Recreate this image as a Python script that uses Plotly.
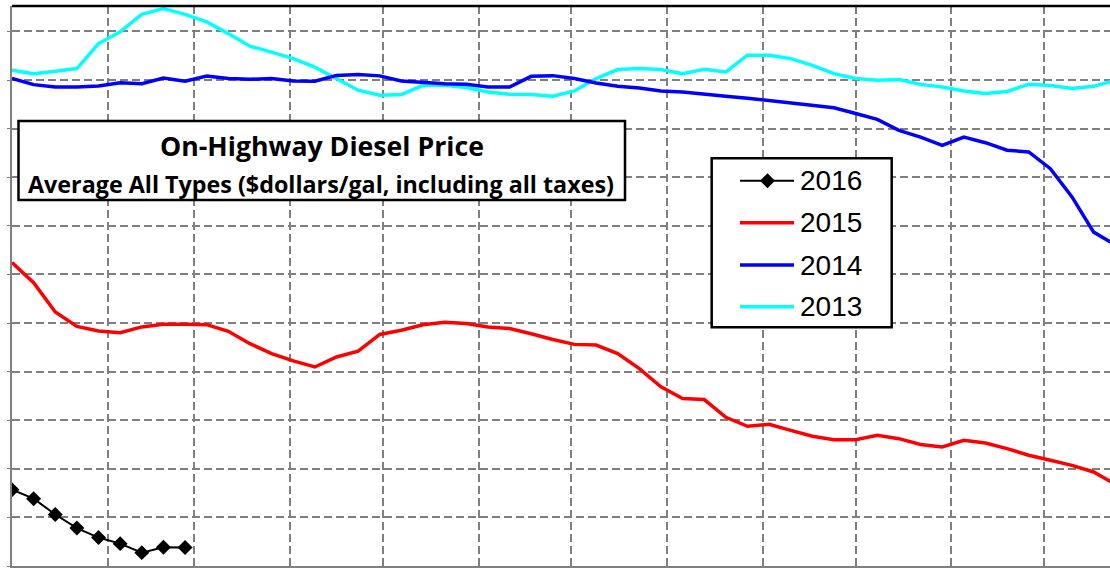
import plotly.graph_objects as go

# Weekly on-highway diesel prices ($/gal), first reading of each year onward
series_names = ["2013", "2014", "2015", "2016"]
series_colors = ["#00FFFF", "#0000FF", "#FF0000", "#000000"]

price_2013 = [3.940, 3.926, 3.936, 3.947, 4.050, 4.098, 4.170, 4.194, 4.170, 4.139,
              4.091, 4.039, 4.015, 3.988, 3.953, 3.906, 3.858, 3.837, 3.840, 3.878,
              3.878, 3.869, 3.851, 3.841, 3.840, 3.833, 3.855, 3.906, 3.943, 3.947,
              3.943, 3.926, 3.944, 3.933, 4.002, 4.002, 3.988, 3.960, 3.926, 3.906,
              3.899, 3.902, 3.882, 3.871, 3.855, 3.844, 3.853, 3.882, 3.877, 3.865,
              3.874, 3.899]
price_2014 = [3.906, 3.881, 3.871, 3.871, 3.875, 3.889, 3.885, 3.908, 3.895, 3.916,
              3.906, 3.903, 3.906, 3.896, 3.895, 3.919, 3.923, 3.917, 3.896, 3.889,
              3.885, 3.882, 3.871, 3.871, 3.915, 3.918, 3.906, 3.888, 3.874, 3.867,
              3.855, 3.851, 3.841, 3.833, 3.825, 3.816, 3.807, 3.797, 3.786, 3.762,
              3.738, 3.693, 3.665, 3.631, 3.665, 3.642, 3.611, 3.604, 3.535, 3.419,
              3.274, 3.222]
price_2015 = [3.149, 3.066, 2.945, 2.886, 2.867, 2.860, 2.884, 2.895, 2.895, 2.893,
              2.866, 2.815, 2.774, 2.744, 2.719, 2.760, 2.784, 2.853, 2.870, 2.893,
              2.903, 2.898, 2.884, 2.877, 2.856, 2.832, 2.812, 2.809, 2.774, 2.712,
              2.637, 2.589, 2.585, 2.512, 2.475, 2.483, 2.458, 2.434, 2.420, 2.420,
              2.438, 2.424, 2.400, 2.390, 2.417, 2.406, 2.383, 2.356, 2.335, 2.314,
              2.287, 2.236]
price_2016 = [2.214, 2.177, 2.112, 2.056, 2.017, 1.992, 1.955, 1.977, 1.976]

# Month boundaries (days into the year) used for the vertical grid
month_start_days = [31, 59, 90, 120, 151, 181, 212, 243, 273, 304, 334]

title_main = "On-Highway Diesel Price"
title_sub = "Average All Types ($dollars/gal, including all taxes)"

W, H = 1110, 573
ML, MR, MT, MB = 12, 0, 6, 7
PW, PH = W - ML - MR, H - MT - MB


def px(x):
    return (x - ML) / PW


def py(y):
    return 1 - (y - MT) / PH


all_prices = [price_2013, price_2014, price_2015, price_2016]

fig = go.Figure()
for name, color, prices in zip(series_names, series_colors, all_prices):
    days = [7 * i for i in range(len(prices))]
    if name == "2016":
        fig.add_trace(go.Scatter(
            x=days, y=prices, name=name, mode="lines+markers",
            line=dict(color=color, width=2),
            marker=dict(symbol="diamond", size=11.5, color=color),
        ))
    else:
        fig.add_trace(go.Scatter(
            x=days, y=prices, name=name, mode="lines",
            line=dict(color=color, width=3.5),
        ))

grid = dict(showgrid=True, gridcolor="#808080", gridwidth=2, griddash="8px,4px")

fig.update_xaxes(
    range=[0, 355.3], tickmode="array", tickvals=month_start_days,
    showticklabels=False, ticks="", zeroline=False,
    showline=True, linecolor="#808080", linewidth=2, **grid,
)
fig.update_yaxes(
    range=[1.9, 1.9 + PH / 243.0], tick0=1.9, dtick=0.2,
    showticklabels=False, ticks="outside", ticklen=3, tickcolor="#808080",
    zeroline=False, showline=True, linecolor="#808080", linewidth=2, **grid,
)

shapes = []
annotations = []

# black frame line along the top of the plot
shapes.append(dict(type="line", xref="paper", yref="paper", x0=0, x1=1, y0=1, y1=1,
                   line=dict(color="black", width=2.5), layer="above"))

# title box
shapes.append(dict(type="rect", xref="paper", yref="paper",
                   x0=px(18.5), x1=px(625), y0=py(200), y1=py(121),
                   fillcolor="white", line=dict(color="black", width=2.5), layer="above"))
annotations.append(dict(text="<b>" + title_main + "</b>", xref="paper", yref="paper",
                        x=px(321.5), y=py(145), xanchor="center", yanchor="middle",
                        showarrow=False, font=dict(family="Open Sans", size=26.7, color="black")))
annotations.append(dict(text="<b>" + title_sub + "</b>", xref="paper", yref="paper",
                        x=px(321), y=py(183.5), xanchor="center", yanchor="middle",
                        showarrow=False, font=dict(family="Open Sans", size=23.3, color="black")))

# legend box, newest year first
shapes.append(dict(type="rect", xref="paper", yref="paper",
                   x0=px(711.7), x1=px(891.7), y0=py(327.3), y1=py(158.3),
                   fillcolor="white", line=dict(color="black", width=2.5), layer="above"))
legend_rows = [180.7, 222.7, 265.0, 306.7]
for row_y, name, color in zip(legend_rows, series_names[::-1], series_colors[::-1]):
    lw = 2 if name == "2016" else 3.5
    shapes.append(dict(type="line", xref="paper", yref="paper",
                       x0=px(740), x1=px(794), y0=py(row_y), y1=py(row_y),
                       line=dict(color=color, width=lw), layer="above"))
    if name == "2016":
        shapes.append(dict(type="path", xref="paper", yref="paper",
                           xsizemode="pixel", ysizemode="pixel",
                           xanchor=px(767.5), yanchor=py(row_y),
                           path="M0,7.5 L7.5,0 L0,-7.5 L-7.5,0 Z",
                           fillcolor=color, line=dict(color=color, width=0), layer="above"))
    annotations.append(dict(text=name, xref="paper", yref="paper",
                            x=px(798), y=py(row_y), xanchor="left", yanchor="middle",
                            showarrow=False,
                            font=dict(family="Liberation Sans", size=28, color="black")))

fig.update_layout(
    width=W, height=H,
    margin=dict(l=ML, r=MR, t=MT, b=MB, pad=0),
    paper_bgcolor="white", plot_bgcolor="white",
    showlegend=False,
    shapes=shapes, annotations=annotations,
)

fig.write_html("out.html")
